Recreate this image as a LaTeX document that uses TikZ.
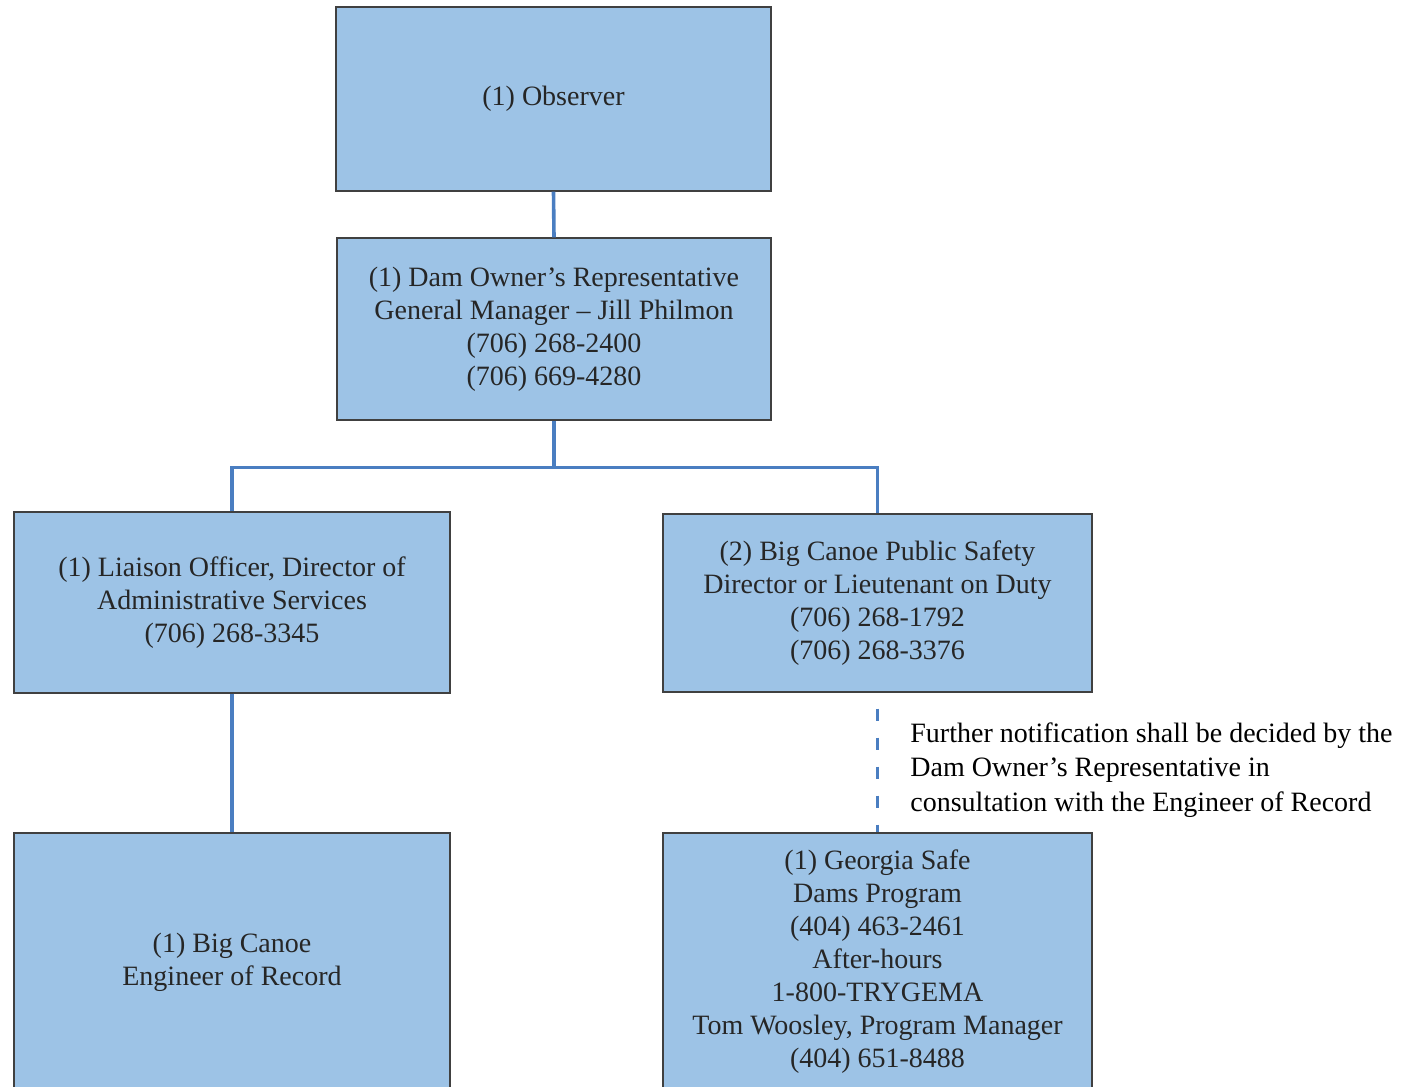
\documentclass[tikz,border=0pt]{standalone}
\usepackage{fontspec}
\setmainfont{Liberation Serif}
\usetikzlibrary{calc}

\definecolor{kastenblau}{RGB}{157,195,230}
\definecolor{linienblau}{RGB}{74,126,193}

\begin{document}
\begin{tikzpicture}[x={(0.5pt,0)},y={(0,-0.5pt)},
  kasten/.style={draw=black!75,line width=.6pt,fill=kastenblau,inner sep=0pt,
    align=center,font=\fontsize{14}{16.5}\selectfont,text=black!85},
  linie/.style={linienblau,line width=1.8pt},
  hinweis/.style={align=left,font=\fontsize{14}{17.25}\selectfont,inner sep=0pt,anchor=north west}]
  % Rahmen
  \useasboundingbox (0,0) rectangle (1409,1087);
  \clip (0,0) rectangle (1409,1087);
  % Kaesten
  \node[kasten,minimum width=217.5pt,minimum height=92pt] (beob) at (553.5,99) {(1) Observer};
  \node[kasten,minimum width=217pt,minimum height=91pt] (eigner) at (554,329)
    {(1) Dam Owner’s Representative\\General Manager -- Jill Philmon\\(706) 268-2400\\(706) 669-4280};
  \node[kasten,minimum width=218pt,minimum height=90.5pt] (verbind) at (232,602.5)
    {(1) Liaison Officer, Director of\\Administrative Services\\(706) 268-3345};
  \node[kasten,minimum width=214.5pt,minimum height=89pt] (sicher) at (877.5,603)
    {(2) Big Canoe Public Safety\\Director or Lieutenant on Duty\\(706) 268-1792\\(706) 268-3376};
  \node[kasten,minimum width=218pt,minimum height=129pt] (ingenieur) at (232,962)
    {(1) Big Canoe\\Engineer of Record};
  \node[kasten,minimum width=214.5pt,minimum height=129pt] (georgia) at (877.5,962)
    {(1) Georgia Safe\\Dams Program\\(404) 463-2461\\After-hours\\1-800-TRYGEMA\\Tom Woosley, Program Manager\\(404) 651-8488};
  % Verbindungen
  \coordinate (knick) at ($(eigner.south)+(0,47)$);
  \draw[linie] (beob.south) -- (eigner.north);
  \draw[linie] (eigner.south) -- (knick);
  \draw[linie] (verbind.north) |- (knick) -| (sicher.north);
  \draw[linie] (verbind.south) -- (ingenieur.north);
  \draw[linie,dash pattern=on 6pt off 8.5pt,dash phase=-8pt] (sicher.south) -- (georgia.north);
  \node[hinweis] (text) at (910,722)
    {Further notification shall be decided by the\\Dam Owner’s Representative in\\consultation with the Engineer of Record};
\end{tikzpicture}
\end{document}
